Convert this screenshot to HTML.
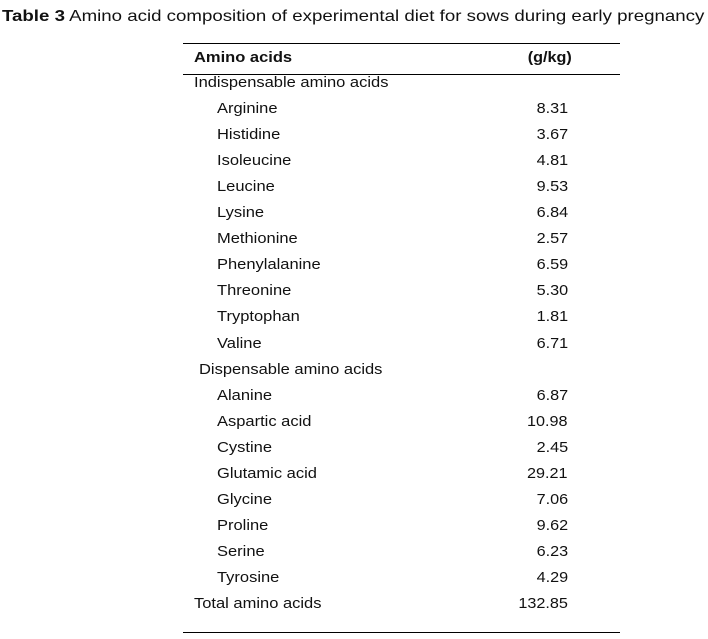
<!DOCTYPE html>
<html><head><meta charset="utf-8"><style>
body{margin:0;width:708px;height:639px;background:#fff;position:relative;font-family:"Liberation Sans",Arial,sans-serif;color:#111;overflow:hidden}
.t{position:absolute;font-size:15px;line-height:18px;white-space:nowrap;transform:scaleX(1.1);transform-origin:0 0}
.n{position:absolute;font-size:15px;line-height:18px;right:140px;text-align:right;white-space:nowrap;transform:scaleX(1.08);transform-origin:100% 0}
.l{position:absolute;left:183px;width:437px;height:1px;background:#000}
</style></head><body>
<div class="t" style="left:2px;top:8px;font-size:16px;transform:scaleX(1.167)"><b>Table 3</b> Amino acid composition of experimental diet for sows during early pregnancy</div>
<div class="l" style="top:43px"></div>
<div class="t" style="left:194px;top:49px;font-weight:bold">Amino acids</div>
<div class="n" style="top:49px;font-weight:bold;right:136px">(g/kg)</div>
<div class="l" style="top:74px"></div>
<div id="rows"></div>
<div class="l" style="top:632px"></div>
<script>
const names=["Indispensable amino acids","Arginine","Histidine","Isoleucine","Leucine","Lysine","Methionine","Phenylalanine","Threonine","Tryptophan","Valine","Dispensable amino acids","Alanine","Aspartic acid","Cystine","Glutamic acid","Glycine","Proline","Serine","Tyrosine","Total amino acids"];
const values=["","8.31","3.67","4.81","9.53","6.84","2.57","6.59","5.30","1.81","6.71","","6.87","10.98","2.45","29.21","7.06","9.62","6.23","4.29","132.85"];
const lefts=[194,217,217,217,217,217,217,217,217,217,217,199,217,217,217,217,217,217,217,217,194];
const c=document.getElementById('rows');
names.forEach((nm,i)=>{
  const y=74+i*26.05;
  const d=document.createElement('div');
  d.className='t';d.style.left=lefts[i]+'px';d.style.top=y+'px';d.textContent=nm;
  
  
  c.appendChild(d);
  if(values[i]){
    const v=document.createElement('div');
    v.className='n';v.style.top=y+'px';v.textContent=values[i];
    
    
    c.appendChild(v);
  }
});
</script>
</body></html>
